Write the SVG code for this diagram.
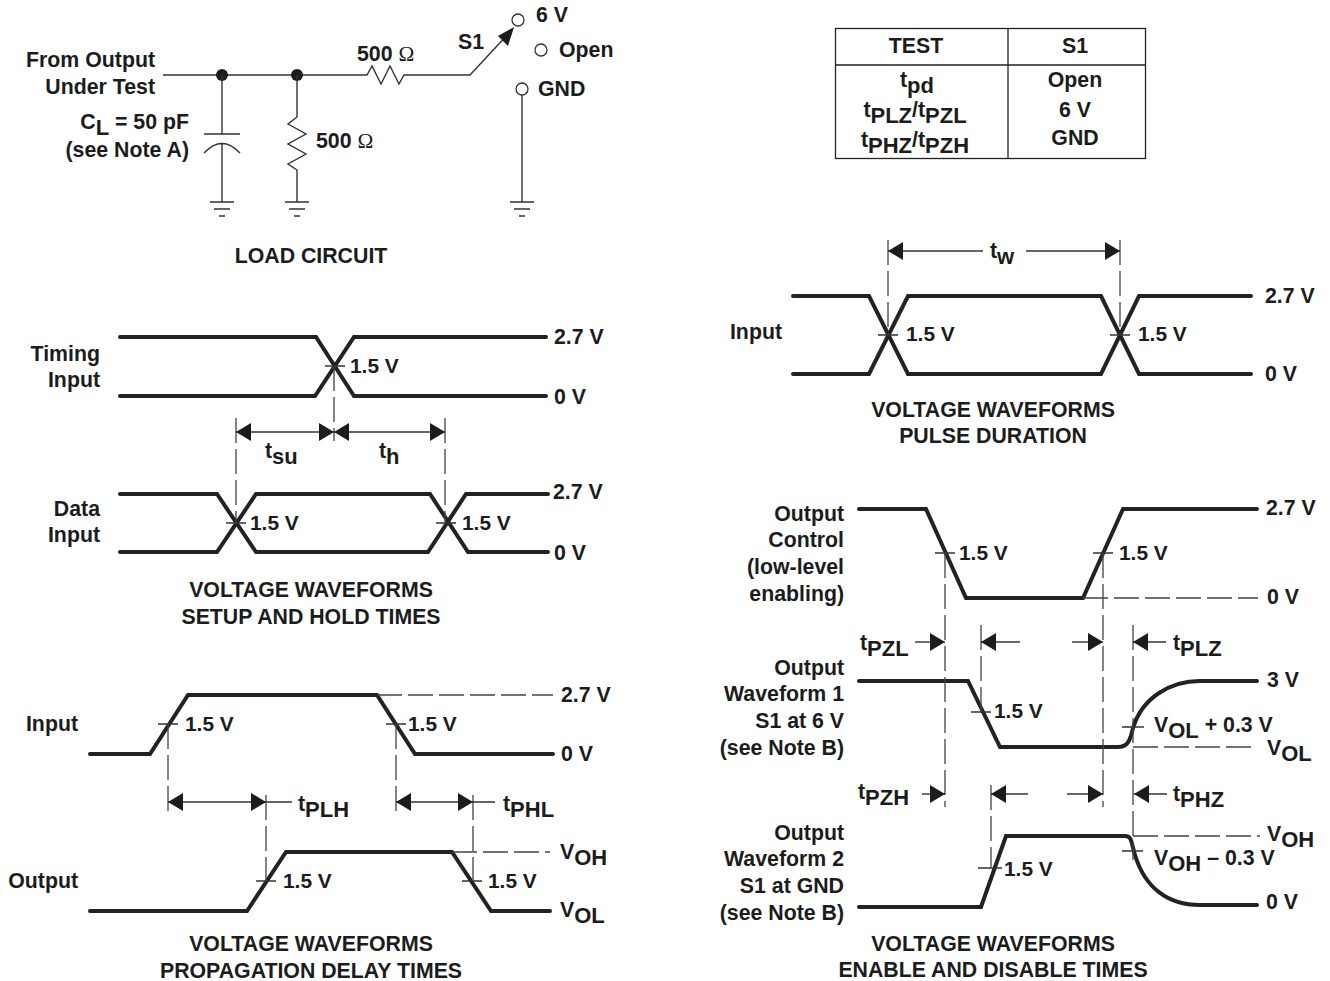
<svg xmlns="http://www.w3.org/2000/svg" width="1330" height="981" viewBox="0 0 1330 981">
<style>
text{font-family:"Liberation Sans",Arial,sans-serif;font-weight:700;font-size:21.300px;fill:#1c1c1c}
.e{text-anchor:end}.m{text-anchor:middle}
.s{font-size:22px}
.n{font-size:20.900px}
.om{font-family:"Liberation Serif",serif;font-weight:400}
.w{fill:none;stroke:#222;stroke-width:4;stroke-linejoin:miter;stroke-linecap:round}
.t{fill:none;stroke:#333;stroke-width:1.400}
.d{fill:none;stroke:#444;stroke-width:1.300;stroke-dasharray:25 6}
.a{fill:none;stroke:#333;stroke-width:1.400;marker-start:url(#ah);marker-end:url(#ah)}
.a1{fill:none;stroke:#333;stroke-width:1.400;marker-end:url(#ah)}
.c{fill:#fff;stroke:#333;stroke-width:1.300}
</style>
<defs>
<marker id="ah" markerUnits="userSpaceOnUse" viewBox="0 0 15 18" markerWidth="15" markerHeight="18" refX="15" refY="9" orient="auto-start-reverse"><path d="M0 0L15 9L0 18Z" fill="#1c1c1c"/></marker>
<g id="gnd"><path class="t" d="M-12 0H12M-8 7H8M-3 14H3"/></g>
</defs>
<rect width="1330" height="981" fill="#fff"/>

<g id="load-circuit">
<path class="t" d="M163 75H362L367 75L372 66L381 84L390 66L399 84L404 75H470L510 32"/>
<path d="M514 27L498 36L508 46Z" fill="#1c1c1c"/>
<circle cx="222" cy="75" r="6" fill="#1c1c1c"/><circle cx="297" cy="75" r="6" fill="#1c1c1c"/>
<path class="t" d="M222 75V134M204 134H240M204 153Q222 134 240 153M222 143V202"/>
<use href="#gnd" x="222" y="202"/>
<path class="t" d="M297 75V117L288 124L306 134L288 144L306 154L288 164L297 170V202"/>
<use href="#gnd" x="297" y="202"/>
<path class="t" d="M522 95V202"/><use href="#gnd" x="522" y="202"/>
<circle class="c" cx="518" cy="20" r="6"/><circle class="c" cx="541" cy="50" r="6"/><circle class="c" cx="522" cy="89" r="6"/>
<text x="155" y="67" class="e">From Output</text>
<text x="155" y="94" class="e">Under Test</text>
<text x="189" y="129" class="e">C<tspan dy="6" class="s">L</tspan><tspan dy="-6"> = 50 pF</tspan></text>
<text x="189" y="157" class="e">(see Note A)</text>
<text x="357" y="61">500 <tspan class="om">Ω</tspan></text>
<text x="316" y="148">500 <tspan class="om">Ω</tspan></text>
<text x="458" y="49">S1</text>
<text x="536" y="22">6 V</text><text x="559" y="57">Open</text><text x="538" y="96">GND</text>
<text x="311" y="263" class="m">LOAD CIRCUIT</text>
</g>

<g id="test-table">
<rect x="835.500" y="28.500" width="310" height="130" fill="none" stroke="#222" stroke-width="1.300"/>
<path d="M835 65H1146M1008 28V158" stroke="#222" stroke-width="1.300" fill="none"/>
<text x="916" y="53" class="m">TEST</text><text x="1075" y="53" class="m">S1</text>
<text x="917" y="87" class="m">t<tspan dy="6" class="s">pd</tspan></text>
<text x="915" y="117" class="m">t<tspan dy="6" class="s">PLZ</tspan><tspan dy="-6">/t</tspan><tspan dy="6" class="s">PZL</tspan></text>
<text x="915" y="147" class="m">t<tspan dy="6" class="s">PHZ</tspan><tspan dy="-6">/t</tspan><tspan dy="6" class="s">PZH</tspan></text>
<text x="1075" y="87" class="m">Open</text><text x="1075" y="117" class="m">6 V</text><text x="1075" y="145" class="m">GND</text>
</g>

<g id="setup-hold">
<path class="w" d="M120 337H316L354 396H546M120 396H315L354 337H546"/>
<path class="w" d="M120 494H217L256 552H428L466 494H548M120 552H217L256 494H430L468 552H548"/>
<text x="100" y="361" class="e">Timing</text><text x="100" y="387" class="e">Input</text>
<text x="100" y="516" class="e">Data</text><text x="100" y="542" class="e">Input</text>
<text x="554" y="344">2.7 V</text><text x="554" y="404">0 V</text>
<text x="553" y="499">2.7 V</text><text x="554" y="560">0 V</text>
<text x="350" y="373" class="n">1.5 V</text><text x="250" y="530" class="n">1.5 V</text><text x="462" y="530" class="n">1.5 V</text>
<text x="265" y="458">t<tspan dy="6" class="s">su</tspan></text>
<text x="379" y="458">t<tspan dy="6" class="s">h</tspan></text>
<text x="311" y="597" class="m">VOLTAGE WAVEFORMS</text><text x="311" y="624" class="m">SETUP AND HOLD TIMES</text>
</g>

<g id="propagation">
<path class="w" d="M90 754H150L188 695H377L415 754H553"/>
<path class="w" d="M90 911H247L286 852H452L491 911H550"/>
<text x="78" y="731" class="e">Input</text><text x="78" y="888" class="e">Output</text>
<text x="561" y="702">2.7 V</text><text x="561" y="761">0 V</text>
<text x="560" y="859">V<tspan dy="6" class="s">OH</tspan></text><text x="560" y="917">V<tspan dy="6" class="s">OL</tspan></text>
<text x="185" y="731" class="n">1.5 V</text><text x="408" y="731" class="n">1.5 V</text><text x="283" y="888" class="n">1.5 V</text><text x="488" y="888" class="n">1.5 V</text>
<text x="298" y="811">t<tspan dy="6" class="s">PLH</tspan></text><text x="503" y="811">t<tspan dy="6" class="s">PHL</tspan></text>
<text x="311" y="951" class="m">VOLTAGE WAVEFORMS</text><text x="311" y="978" class="m">PROPAGATION DELAY TIMES</text>
</g>

<g id="pulse-duration">
<path class="w" d="M793 296H869L908 374H1101L1139 296H1251"/>
<path class="w" d="M793 374H869L908 296H1101L1139 374H1251"/>
<text x="782" y="339" class="e">Input</text><text x="1265" y="303">2.7 V</text><text x="1265" y="381">0 V</text>
<text x="906" y="341" class="n">1.5 V</text><text x="1138" y="341" class="n">1.5 V</text>
<text x="990" y="258">t<tspan dy="6" class="s">w</tspan></text>
<text x="993" y="417" class="m">VOLTAGE WAVEFORMS</text><text x="993" y="443" class="m">PULSE DURATION</text>
</g>

<g id="enable-disable">
<path class="w" d="M859 509H926L966 598H1083L1123 509H1257"/>
<path class="w" d="M859 681H968L1000 747H1118C1127 747 1130 742 1133 728C1142 698 1170 681 1200 681H1257"/>
<path class="w" d="M859 907H981L1006 836H1125C1132 836 1131 842 1135 855C1145 888 1168 905 1200 905H1257"/>
<text x="844" y="521" class="e">Output</text><text x="844" y="547" class="e">Control</text><text x="844" y="574" class="e">(low-level</text><text x="844" y="601" class="e">enabling)</text>
<text x="844" y="675" class="e">Output</text><text x="844" y="701" class="e">Waveform 1</text><text x="844" y="728" class="e">S1 at 6 V</text><text x="844" y="755" class="e">(see Note B)</text>
<text x="844" y="840" class="e">Output</text><text x="844" y="866" class="e">Waveform 2</text><text x="844" y="893" class="e">S1 at GND</text><text x="844" y="920" class="e">(see Note B)</text>
<text x="1266" y="515">2.7 V</text><text x="1267" y="604">0 V</text><text x="1267" y="687">3 V</text><text x="1266" y="909">0 V</text>
<text x="1267" y="755">V<tspan dy="6" class="s">OL</tspan></text><text x="1267" y="841">V<tspan dy="6" class="s">OH</tspan></text>
<text x="959" y="560" class="n">1.5 V</text><text x="1119" y="560" class="n">1.5 V</text><text x="994" y="718" class="n">1.5 V</text><text x="1004" y="876" class="n">1.5 V</text>
<text x="1154" y="732">V<tspan dy="6" class="s">OL</tspan><tspan dy="-6"> + 0.3 V</tspan></text>
<text x="1154" y="865">V<tspan dy="6" class="s">OH</tspan><tspan dy="-6"> – 0.3 V</tspan></text>
<text x="860" y="650">t<tspan dy="6" class="s">PZL</tspan></text><text x="1173" y="650">t<tspan dy="6" class="s">PLZ</tspan></text>
<text x="858" y="799">t<tspan dy="6" class="s">PZH</tspan></text><text x="1173" y="801">t<tspan dy="6" class="s">PHZ</tspan></text>
<text x="993" y="951" class="m">VOLTAGE WAVEFORMS</text><text x="993" y="977" class="m">ENABLE AND DISABLE TIMES</text>
</g>

<g id="connectors">
<path class="t" d="M325 366H345M226 523H246M436 523H456M158 724H178M386 724H406M256 881H276M462 881H482M878 335H898M1110 335H1130M935 553H955M1093 553H1113M971 712H991M1122 727H1144M978 868H1002M1122 851H1143"/>
<path class="d" d="M334 366V441M236 418V524M445 418V524"/>
<path class="a" d="M236 432H334"/><path class="a" d="M445 432H334"/>
<path class="d" d="M377 695H553M168 724V812M396 724V812M266 795V881M473 795V881M452 852H550"/>
<path class="a" d="M168 802H266"/><path class="a" d="M396 802H473"/>
<path class="t" d="M266 802H292M473 802H495"/>
<path class="d" d="M888 240V335M1120 240V335"/>
<path class="a1" d="M983 251H888"/><path class="a1" d="M1026 251H1120"/>
<path class="d" d="M1083 598H1258M945 553V807M1103 553V807M981 625V712M1133 625V860M1133 747H1255M991 785V868M1133 836H1260"/>
<path class="a1" d="M915 642H945"/><path class="a1" d="M1020 642H981"/><path class="a1" d="M1072 642H1103"/><path class="a1" d="M1166 642H1133"/>
<path class="a1" d="M922 794H945"/><path class="a1" d="M1028 794H991"/><path class="a1" d="M1067 794H1103"/><path class="a1" d="M1167 794H1134"/>
</g>
</svg>
